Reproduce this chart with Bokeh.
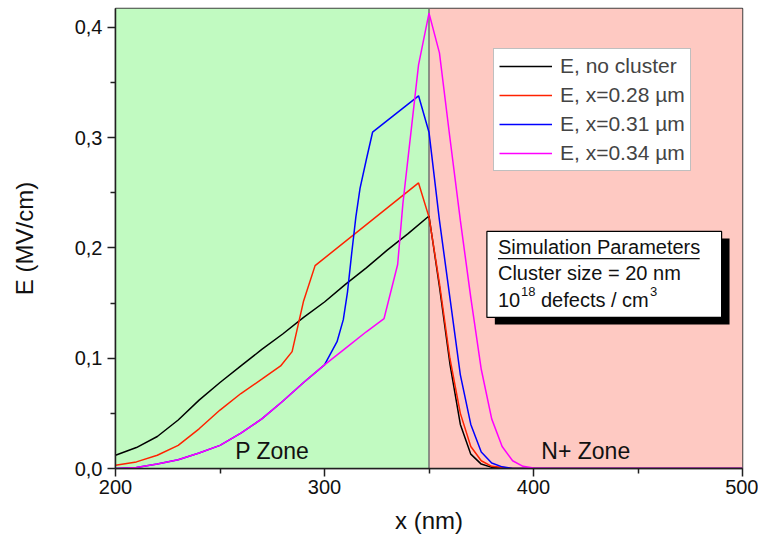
from bokeh.plotting import figure
from bokeh.models import (Range1d, FixedTicker, CustomJSTickFormatter, BoxAnnotation, Span,
                          Label, Legend, LegendItem)
from bokeh.embed import file_html
from bokeh.resources import INLINE

# ---------------- data ----------------
x_nc = [200, 210, 220, 230, 240, 250, 260, 270, 280, 290, 300, 310, 320, 330, 340, 350,
        355, 360, 365, 370, 375, 380, 390, 400, 450, 500]
e_nc = [0.012, 0.019, 0.029, 0.044, 0.062, 0.078, 0.093, 0.108, 0.122, 0.137, 0.151, 0.167,
        0.182, 0.198, 0.213, 0.229, 0.165, 0.095, 0.040, 0.013, 0.004, 0.001, 0.0, 0.0, 0.0, 0.0]

x_28 = [200, 210, 220, 230, 240, 250, 260, 270, 279, 284.5, 290, 295.5, 345, 350,
        355, 360, 365, 370, 375, 380, 390, 400, 450, 500]
e_28 = [0.003, 0.006, 0.012, 0.021, 0.036, 0.053, 0.068, 0.081, 0.093, 0.106, 0.152, 0.184,
        0.259, 0.228, 0.168, 0.100, 0.050, 0.020, 0.007, 0.002, 0.0, 0.0, 0.0, 0.0]

x_31 = [200, 210, 220, 230, 240, 250, 260, 270, 280, 290, 300, 306, 309, 311, 313, 315, 317,
        320, 323, 345, 350, 355, 360, 365, 370, 375, 380, 385, 390, 400, 450, 500]
e_31 = [0.0, 0.001, 0.004, 0.008, 0.014, 0.021, 0.032, 0.045, 0.061, 0.078, 0.094, 0.115,
        0.135, 0.160, 0.195, 0.228, 0.254, 0.280, 0.305, 0.338, 0.305, 0.225, 0.155, 0.085,
        0.040, 0.015, 0.005, 0.0015, 0.0, 0.0, 0.0, 0.0]

x_34 = [200, 210, 220, 230, 240, 250, 260, 270, 280, 290, 300, 310, 320, 328.5, 335, 337.5,
        345, 350, 355, 360, 365, 370, 375, 380, 385, 390, 395, 400, 410, 450, 500]
e_34 = [0.0, 0.001, 0.004, 0.008, 0.014, 0.021, 0.032, 0.045, 0.061, 0.078, 0.094, 0.109,
        0.124, 0.136, 0.185, 0.240, 0.366, 0.413, 0.377, 0.300, 0.225, 0.155, 0.090, 0.045,
        0.020, 0.007, 0.002, 0.0005, 0.0, 0.0, 0.0]

series_labels = ["E, no cluster", "E, x=0.28 µm", "E, x=0.31 µm", "E, x=0.34 µm"]
series_colors = ["#000000", "#ff2200", "#0000ff", "#ff00ff"]

zone_edges = [200, 350, 500]
zone_names = ["P Zone", "N+ Zone"]
zone_colors = ["#c1fac1", "#fec9c2"]

x_ticks = [200, 300, 400, 500]
x_minor = [250, 350, 450]
y_ticks = [0.0, 0.1, 0.2, 0.3, 0.4]
y_minor = [0.05, 0.15, 0.25, 0.35]

param_lines = ["Simulation Parameters", "Cluster size = 20 nm"]

FONT = "Liberation Sans"

p = figure(width=758, height=544, output_backend="svg", toolbar_location=None,
           x_range=Range1d(200, 500), y_range=Range1d(0, 0.4172),
           min_border_left=115, min_border_right=16, min_border_top=8, min_border_bottom=76)
p.background_fill_color = "white"
p.border_fill_color = "white"
p.xgrid.visible = False
p.ygrid.visible = False
p.outline_line_color = "#404040"
p.outline_line_width = 1.5

# zones
for i in range(2):
    p.add_layout(BoxAnnotation(left=zone_edges[i], right=zone_edges[i + 1],
                               fill_color=zone_colors[i], fill_alpha=1.0,
                               line_alpha=0, level="underlay"))
    p.add_layout(Label(x=(zone_edges[i] + zone_edges[i + 1]) / 2, y=0.016, text=zone_names[i],
                       text_align="center", text_baseline="middle",
                       text_font=FONT, text_font_size="23px", text_color="#111111"))
p.add_layout(Span(location=zone_edges[1], dimension="height", line_color="#707070",
                  line_width=1.5, level="underlay"))

# curves
rs = []
for xs, ys, c in zip([x_nc, x_28, x_31, x_34], [e_nc, e_28, e_31, e_34], series_colors):
    rs.append(p.line(xs, ys, line_color=c, line_width=1.5))

legend = Legend(items=[LegendItem(label=l, renderers=[r]) for l, r in zip(series_labels, rs)],
                location=(378, 297), label_text_font=FONT, label_text_font_size="21px",
                glyph_width=53, glyph_height=20, label_height=20, spacing=5,
                label_standoff=8, padding=5, margin=0,
                border_line_color="#808080", border_line_width=1.5,
                background_fill_color="white", background_fill_alpha=1.0)
p.add_layout(legend, "center")

# simulation parameter box
p.add_layout(BoxAnnotation(left=381.5, right=493.8, bottom=0.1306, top=0.2086,
                           fill_color="black", fill_alpha=1.0, line_alpha=0))
p.add_layout(BoxAnnotation(left=377.7, right=490.0, bottom=0.137, top=0.215,
                           fill_color="white", fill_alpha=1.0, line_color="black",
                           line_width=1.2, line_alpha=1.0))
YO = 6
p.add_layout(Label(x=383.0, y=0.195, y_offset=YO, text=param_lines[0], text_font=FONT,
                   text_baseline="alphabetic",
                   text_font_size="20px", text_color="#111111"))
p.add_layout(BoxAnnotation(left=383.0, right=479.5, bottom=0.1898, top=0.1910,
                           fill_color="#111111", fill_alpha=1.0, line_alpha=0))
p.add_layout(Label(x=383.0, y=0.1723, y_offset=YO, text=param_lines[1], text_font=FONT,
                   text_baseline="alphabetic",
                   text_font_size="20px", text_color="#111111"))
p.add_layout(Label(x=383.0, y=0.1478, y_offset=YO, text="10", text_font=FONT,
                   text_baseline="alphabetic",
                   text_font_size="20px", text_color="#111111"))
p.add_layout(Label(x=383.0, y=0.1478, x_offset=23, y_offset=YO + 8, text="18", text_font=FONT,
                   text_baseline="alphabetic",
                   text_font_size="13px", text_color="#111111"))
p.add_layout(Label(x=383.0, y=0.1478, x_offset=43, y_offset=YO, text="defects / cm",
                   text_font=FONT, text_baseline="alphabetic",
                   text_font_size="20px", text_color="#111111"))
p.add_layout(Label(x=383.0, y=0.1478, x_offset=152, y_offset=YO + 8, text="3", text_font=FONT,
                   text_baseline="alphabetic",
                   text_font_size="13px", text_color="#111111"))

# axes
fmt = CustomJSTickFormatter(code="return tick.toFixed(1).replace('.', ',');")
p.xaxis.ticker = FixedTicker(ticks=x_ticks, minor_ticks=x_minor)
p.yaxis.ticker = FixedTicker(ticks=y_ticks, minor_ticks=y_minor)
p.yaxis.formatter = fmt
p.xaxis.axis_label = "x (nm)"
p.yaxis.axis_label = "E (MV/cm)"
for ax in (p.xaxis, p.yaxis):
    ax.axis_label_text_font = FONT
    ax.axis_label_text_font_size = "24px"
    ax.axis_label_text_font_style = "normal"
    ax.axis_label_text_color = "#111111"
    ax.major_label_text_font = FONT
    ax.major_label_text_font_size = "20px"
    ax.major_label_text_color = "#111111"
    ax.axis_line_color = "#202020"
    ax.axis_line_width = 1.5
    ax.major_tick_line_color = "#202020"
    ax.major_tick_line_width = 1.5
    ax.minor_tick_line_color = "#202020"
    ax.minor_tick_line_width = 1.5
    ax.major_tick_out = 8
    ax.major_tick_in = 0
    ax.minor_tick_out = 5
    ax.minor_tick_in = 0
p.xaxis.major_label_standoff = 3
p.yaxis.major_label_standoff = 5
p.xaxis.axis_label_standoff = 10
p.yaxis.axis_label_standoff = 34

open("out.html", "w").write(file_html(p, INLINE))
